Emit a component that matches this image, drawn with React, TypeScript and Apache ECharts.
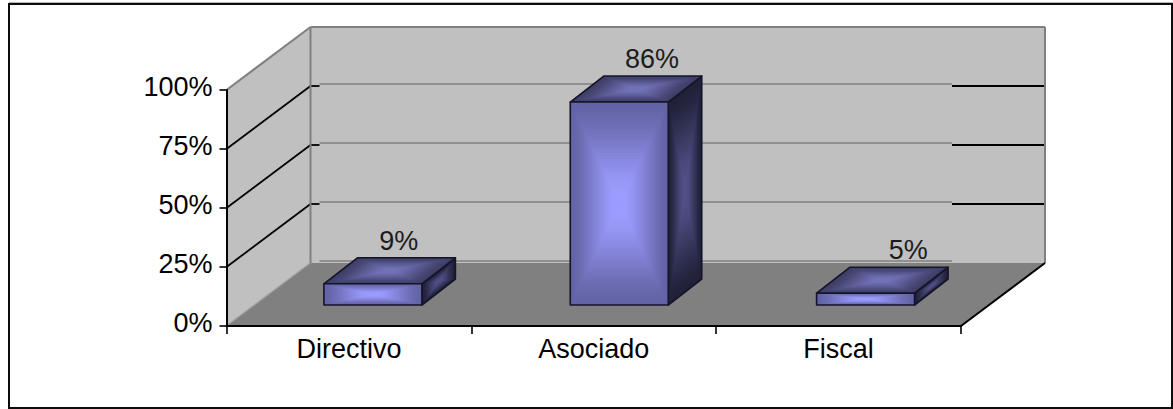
import React, { useEffect, useRef } from "react";
import * as echarts from "echarts";

const categories = ["Directivo", "Asociado", "Fiscal"];
const shares = [9, 86, 5];
const percentTicks = [0, 25, 50, 75, 100];
const labelShiftX = [9, 16, 26];

const FONT = '"Liberation Sans", Arial, sans-serif';
const TEXT_SIZE = 27;

// Depth of the chart box and of the boxes standing on its floor, in pixels.
const BOX_DX = 84;
const BOX_DY = -63;
const BAR_DX = 33.5;
const BAR_DY = -26;
const BAR_FRONT_DX = 25.5;
const BAR_FRONT_DY = -21;
const BAR_SPREAD = 1.5;
const BAR_WIDTH = 98;
const SHADE_STEPS = 32;

type Rgb = [number, number, number];
type Pt = [number, number];

const faceShades: Record<string, { edge: Rgb; centre: Rgb }> = {
  front: { edge: [0x62, 0x62, 0xa4], centre: [0x9c, 0x9c, 0xff] },
  top: { edge: [0x3e, 0x3e, 0x66], centre: [0x72, 0x72, 0xb8] },
  side: { edge: [0x20, 0x20, 0x38], centre: [0x50, 0x50, 0x86] },
};

const mix = (a: Rgb, b: Rgb, t: number) =>
  `rgb(${a.map((v, i) => Math.round(v + (b[i] - v) * t)).join(",")})`;

// A face filled from its centre outwards: nested copies shrink towards the middle,
// and the brightest tone is reached a little before the centre so it stays soft.
function shadedFace(points: Pt[], shade: { edge: Rgb; centre: Rgb }) {
  const cx = points.reduce((s, p) => s + p[0], 0) / points.length;
  const cy = points.reduce((s, p) => s + p[1], 0) / points.length;
  const parts: any[] = [];
  for (let i = 0; i < SHADE_STEPS; i++) {
    const t = i / SHADE_STEPS;
    const eased = Math.min(1, t / 0.88);
    const tone = eased * eased * (3 - 2 * eased) * 0.5 + eased * 0.5;
    parts.push({
      type: "polygon",
      silent: true,
      shape: {
        points: points.map((p) => [cx + (p[0] - cx) * (1 - t), cy + (p[1] - cy) * (1 - t)]),
      },
      style: { fill: mix(shade.edge, shade.centre, tone), stroke: null },
    });
  }
  parts.push({
    type: "polygon",
    silent: true,
    shape: { points },
    style: { fill: "none", stroke: "#14142a", lineWidth: 1.6, lineJoin: "round" },
  });
  return parts;
}

function renderBox(params: any, api: any) {
  const i = params.dataIndex;
  const value = api.value(1);
  const base = api.coord([api.value(0), 0]);
  const tip = api.coord([api.value(0), value]);
  const cx = base[0] + BAR_FRONT_DX + (i - 1) * BAR_SPREAD;
  const x0 = cx - BAR_WIDTH / 2;
  const x1 = cx + BAR_WIDTH / 2;
  const yB = base[1] + BAR_FRONT_DY;
  const yT = tip[1] + BAR_FRONT_DY;
  const front: Pt[] = [[x0, yT], [x1, yT], [x1, yB], [x0, yB]];
  const top: Pt[] = [[x0, yT], [x0 + BAR_DX, yT + BAR_DY], [x1 + BAR_DX, yT + BAR_DY], [x1, yT]];
  const side: Pt[] = [[x1, yT], [x1 + BAR_DX, yT + BAR_DY], [x1 + BAR_DX, yB + BAR_DY], [x1, yB]];
  return {
    type: "group",
    children: [
      ...shadedFace(side, faceShades.side),
      ...shadedFace(top, faceShades.top),
      ...shadedFace(front, faceShades.front),
      {
        type: "text",
        silent: true,
        style: {
          text: `${value}%`,
          x: cx + BAR_DX / 2 + labelShiftX[i],
          y: yT + BAR_DY / 2 - 30,
          fill: "#1c1c1c",
          fontSize: TEXT_SIZE,
          fontFamily: FONT,
          textAlign: "center",
          textVerticalAlign: "middle",
        },
      },
    ],
  };
}

// Walls, floor and gridlines of the chart box, placed through the value and category scales.
function renderChamber(_params: any, api: any) {
  const band = api.size([1, 0])[0];
  const left = api.coord([categories[0], 0])[0] - band / 2;
  const right = left + band * categories.length;
  const y0 = api.coord([categories[0], 0])[1];
  const y100 = api.coord([categories[0], 100])[1];
  const wallStroke = { stroke: "#808080", lineWidth: 2 };
  const black = { stroke: "#000", lineWidth: 1.8 };
  const segment = (x1: number, y1: number, x2: number, y2: number, style: any) => ({
    type: "line",
    silent: true,
    shape: { x1, y1, x2, y2 },
    style,
  });
  const children: any[] = [
    {
      type: "polygon",
      silent: true,
      shape: {
        points: [
          [left, y100],
          [left + BOX_DX, y100 + BOX_DY],
          [left + BOX_DX, y0 + BOX_DY],
          [left, y0],
        ],
      },
      style: { fill: "#c0c0c0" },
    },
    {
      type: "rect",
      silent: true,
      shape: {
        x: left + BOX_DX,
        y: y100 + BOX_DY,
        width: right - left,
        height: y0 - y100,
      },
      style: { fill: "#c0c0c0" },
    },
    {
      type: "polygon",
      silent: true,
      shape: {
        points: [
          [left, y0],
          [right, y0],
          [right + BOX_DX, y0 + BOX_DY],
          [left + BOX_DX, y0 + BOX_DY],
        ],
      },
      style: { fill: "#808080" },
    },
  ];
  percentTicks.slice(0, -1).forEach((tick) => {
    const y = api.coord([categories[0], tick])[1];
    const by = y + BOX_DY;
    children.push(segment(left + BOX_DX + 9, by - 2, right + BOX_DX - 93, by - 2, { stroke: "#808080", lineWidth: 1.6 }));
    if (tick > 0) {
      children.push(segment(left, y, left + BOX_DX, by, black));
      children.push(segment(left + BOX_DX, by, left + BOX_DX + 9, by, black));
      children.push(segment(right + BOX_DX - 93, by, right + BOX_DX, by, black));
    }
  });
  children.push(
    segment(left, y100, left + BOX_DX, y100 + BOX_DY, wallStroke),
    segment(left + BOX_DX, y100 + BOX_DY, right + BOX_DX, y100 + BOX_DY, wallStroke),
    segment(left + BOX_DX, y100 + BOX_DY, left + BOX_DX, y0 + BOX_DY, wallStroke),
    segment(right + BOX_DX, y100 + BOX_DY, right + BOX_DX, y0 + BOX_DY, wallStroke),
    segment(left, y0, left + BOX_DX, y0 + BOX_DY, { stroke: "#9a9a9a", lineWidth: 1.2 }),
    segment(right, y0, right + BOX_DX, y0 + BOX_DY, { stroke: "#000", lineWidth: 2 })
  );
  return { type: "group", children };
}

export default function App() {
  const ref = useRef<HTMLDivElement>(null);

  useEffect(() => {
    const chart = echarts.init(ref.current!, undefined, { renderer: "svg" });
    chart.setOption({
      animation: false,
      backgroundColor: "#ffffff",
      textStyle: { fontFamily: FONT },
      grid: { left: 226.5, width: 734.5, top: 90, height: 236, containLabel: false },
      xAxis: {
        type: "category",
        data: categories,
        z: 5,
        axisLine: { show: true, lineStyle: { color: "#000", width: 2 } },
        axisTick: { show: true, alignWithLabel: false, length: 8, lineStyle: { color: "#000", width: 1.6 } },
        axisLabel: { color: "#000", fontSize: TEXT_SIZE, fontFamily: FONT, margin: 9 },
        splitLine: { show: false },
      },
      yAxis: {
        type: "value",
        min: 0,
        max: 100,
        interval: 25,
        z: 5,
        axisLine: { show: true, lineStyle: { color: "#000", width: 2 } },
        axisTick: { show: true, length: 7, lineStyle: { color: "#000", width: 1.6 } },
        axisLabel: {
          color: "#000",
          fontSize: TEXT_SIZE,
          fontFamily: FONT,
          margin: 14,
          verticalAlign: "bottom",
          lineHeight: 6,
          formatter: "{value}%",
        },
        splitLine: { show: false },
      },
      graphic: [
        {
          type: "line",
          silent: true,
          shape: { x1: 9, y1: 2.5, x2: 1173, y2: 2.5 },
          style: { stroke: "#b4b4b4", lineWidth: 1 },
        },
        {
          type: "rect",
          silent: true,
          shape: { x: 9, y: 4, width: 1163, height: 404 },
          style: { fill: "none", stroke: "#0c0c0c", lineWidth: 2 },
        },
      ],
      series: [
        {
          type: "custom",
          z: 1,
          silent: true,
          clip: false,
          data: [[categories[0], 0]],
          encode: { x: 0, y: 1 },
          renderItem: renderChamber,
        },
        {
          type: "custom",
          z: 6,
          silent: true,
          clip: false,
          data: categories.map((name, i) => [name, shares[i]]),
          encode: { x: 0, y: 1 },
          renderItem: renderBox,
        },
      ],
    });
    return () => chart.dispose();
  }, []);

  return (
    <div
      ref={ref}
      style={{ position: "fixed", left: 0, top: 0, width: 1173, height: 409 }}
    />
  );
}
